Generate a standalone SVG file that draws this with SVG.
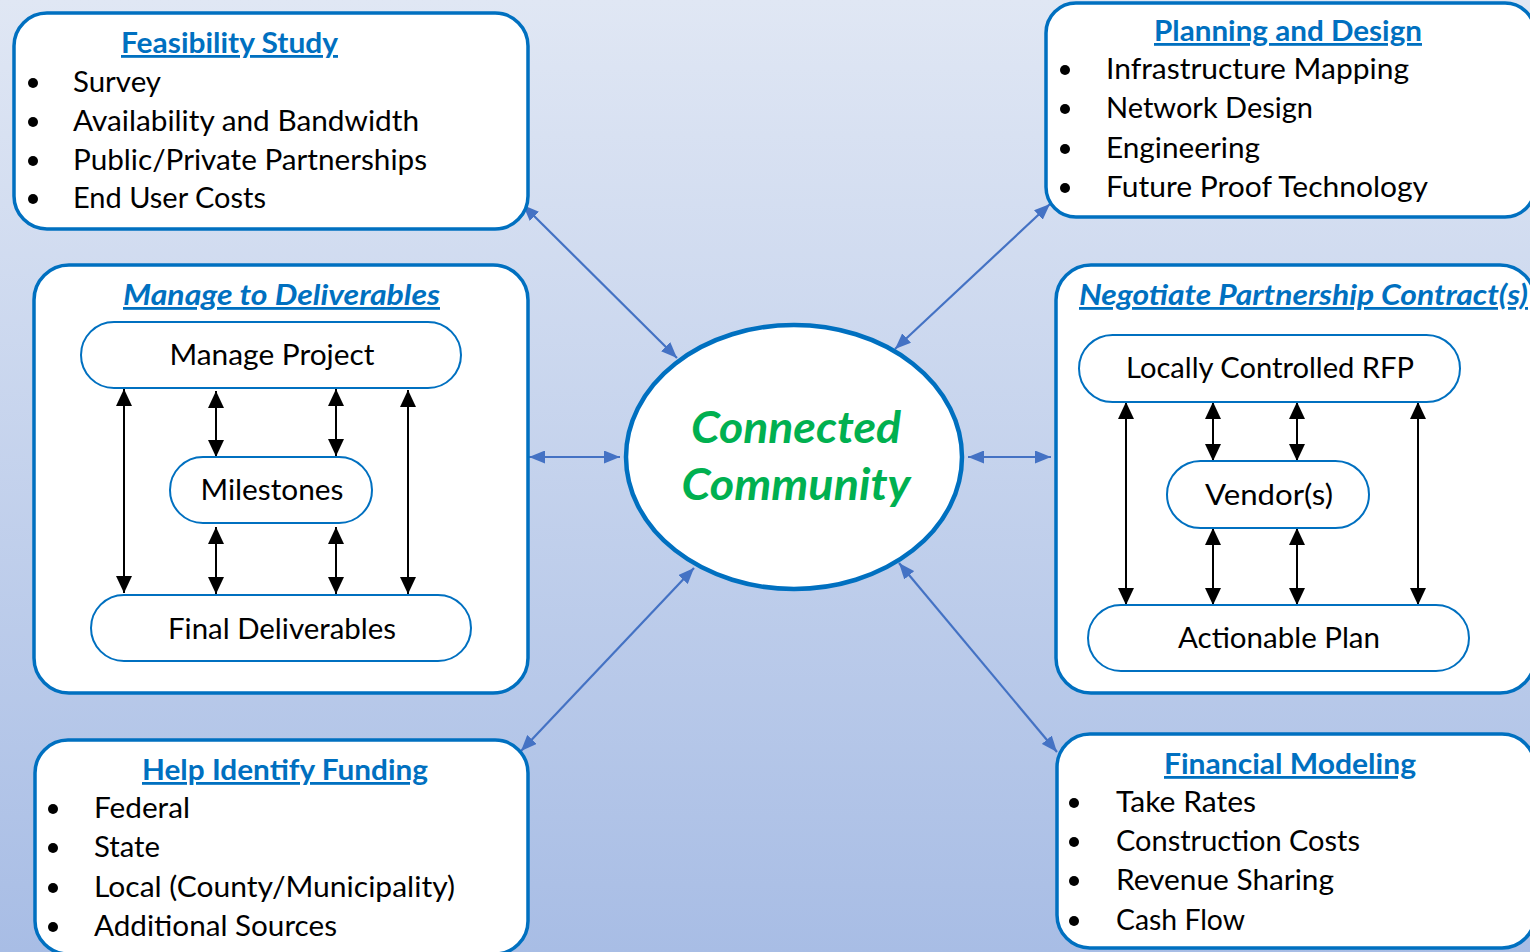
<svg xmlns="http://www.w3.org/2000/svg" width="1530" height="952" viewBox="0 0 1530 952">
<defs>
<linearGradient id="bg" x1="0" y1="0" x2="0" y2="1">
<stop offset="0" stop-color="#E0E7F4"/>
<stop offset="1" stop-color="#A8BDE5"/>
</linearGradient>
<marker id="ab" markerUnits="userSpaceOnUse" markerWidth="16" markerHeight="13" viewBox="0 0 16 13" refX="16" refY="6.5" orient="auto-start-reverse">
<path d="M0,0 L16,6.5 L0,13 z" fill="#4472C4"/>
</marker>
<marker id="ak" markerUnits="userSpaceOnUse" markerWidth="17" markerHeight="16" viewBox="0 0 17 16" refX="17" refY="8" orient="auto-start-reverse">
<path d="M0,0 L17,8 L0,16 z" fill="#000"/>
</marker>
</defs>
<style>
.box{fill:#fff;stroke:#0070C0;stroke-width:3.5}
.pill{fill:#fff;stroke:#0070C0;stroke-width:2}
.title{font-family:Lato,"Liberation Sans",sans-serif;font-weight:bold;fill:#0070C0;font-size:28px;text-decoration:underline}
.ital{font-style:italic}
.item{font-family:Lato,"Liberation Sans",sans-serif;font-size:29px;fill:#000}
.pt{font-family:Lato,"Liberation Sans",sans-serif;font-size:28px;fill:#000;text-anchor:middle}
.cc{font-family:Lato,"Liberation Sans",sans-serif;font-size:44px;font-weight:bold;font-style:italic;fill:#00B050;text-anchor:middle}
.bl{fill:#000}
.conn{stroke:#4472C4;stroke-width:2.2;fill:none;marker-start:url(#ab);marker-end:url(#ab)}
.blk{stroke:#000;stroke-width:2;fill:none;marker-start:url(#ak);marker-end:url(#ak)}
</style>
<rect width="1530" height="952" fill="url(#bg)"/>

<g id="connectors">
<line class="conn" x1="523" y1="205" x2="677" y2="358"/>
<line class="conn" x1="1050" y1="204" x2="895" y2="349"/>
<line class="conn" x1="529" y1="457" x2="620" y2="457"/>
<line class="conn" x1="968" y1="457" x2="1051" y2="457"/>
<line class="conn" x1="521" y1="751" x2="694" y2="568"/>
<line class="conn" x1="1057" y1="752" x2="899" y2="563"/>
</g>

<g id="feasibility">
<rect class="box" x="14" y="13" width="514" height="216" rx="33"/>
<text class="title" x="121" y="53" textLength="217" lengthAdjust="spacingAndGlyphs">Feasibility Study</text>
<circle class="bl" cx="33" cy="83" r="5"/>
<circle class="bl" cx="33" cy="122" r="5"/>
<circle class="bl" cx="33" cy="161" r="5"/>
<circle class="bl" cx="33" cy="199" r="5"/>
<text class="item" x="73" y="92" textLength="88" lengthAdjust="spacingAndGlyphs">Survey</text>
<text class="item" x="73" y="131" textLength="346" lengthAdjust="spacingAndGlyphs">Availability and Bandwidth</text>
<text class="item" x="73" y="170" textLength="354" lengthAdjust="spacingAndGlyphs">Public/Private Partnerships</text>
<text class="item" x="73" y="208" textLength="193" lengthAdjust="spacingAndGlyphs">End User Costs</text>
</g>

<g id="planning">
<rect class="box" x="1046" y="3" width="489" height="214" rx="30"/>
<text class="title" x="1154" y="41" textLength="268" lengthAdjust="spacingAndGlyphs">Planning and Design</text>
<circle class="bl" cx="1065" cy="70" r="5"/>
<circle class="bl" cx="1065" cy="109" r="5"/>
<circle class="bl" cx="1065" cy="149" r="5"/>
<circle class="bl" cx="1065" cy="188" r="5"/>
<text class="item" x="1106" y="79" textLength="303" lengthAdjust="spacingAndGlyphs">Infrastructure Mapping</text>
<text class="item" x="1106" y="118" textLength="207" lengthAdjust="spacingAndGlyphs">Network Design</text>
<text class="item" x="1106" y="158" textLength="154" lengthAdjust="spacingAndGlyphs">Engineering</text>
<text class="item" x="1106" y="197" textLength="322" lengthAdjust="spacingAndGlyphs">Future Proof Technology</text>
</g>

<g id="manage">
<rect class="box" x="34" y="265" width="494" height="428" rx="35"/>
<text class="title ital" x="123" y="305" textLength="317" lengthAdjust="spacingAndGlyphs">Manage to Deliverables</text>
<line class="blk" x1="124" y1="389" x2="124" y2="593"/>
<line class="blk" x1="216" y1="391" x2="216" y2="457"/>
<line class="blk" x1="336" y1="389" x2="336" y2="456"/>
<line class="blk" x1="408" y1="390" x2="408" y2="594"/>
<line class="blk" x1="216" y1="527" x2="216" y2="594"/>
<line class="blk" x1="336" y1="527" x2="336" y2="594"/>
<g id="manage-project">
<rect class="pill" x="81" y="322" width="380" height="66" rx="33"/>
<text class="pt" x="272" y="365" textLength="205" lengthAdjust="spacingAndGlyphs">Manage Project</text>
</g>
<g id="milestones">
<rect class="pill" x="170" y="457" width="202" height="66" rx="33"/>
<text class="pt" x="272" y="500" textLength="143" lengthAdjust="spacingAndGlyphs">Milestones</text>
</g>
<g id="final-deliverables">
<rect class="pill" x="91" y="595" width="380" height="66" rx="33"/>
<text class="pt" x="282" y="639" textLength="228" lengthAdjust="spacingAndGlyphs">Final Deliverables</text>
</g>
</g>

<g id="negotiate">
<rect class="box" x="1056" y="265" width="479" height="428" rx="35"/>
<text class="title ital" x="1079" y="305" textLength="449" lengthAdjust="spacingAndGlyphs">Negotiate Partnership Contract(s)</text>
<line class="blk" x1="1126" y1="402" x2="1126" y2="605"/>
<line class="blk" x1="1213" y1="402" x2="1213" y2="461"/>
<line class="blk" x1="1297" y1="402" x2="1297" y2="461"/>
<line class="blk" x1="1418" y1="402" x2="1418" y2="605"/>
<line class="blk" x1="1213" y1="528" x2="1213" y2="605"/>
<line class="blk" x1="1297" y1="528" x2="1297" y2="605"/>
<g id="rfp">
<rect class="pill" x="1079" y="335" width="381" height="67" rx="33.5"/>
<text class="pt" x="1270" y="378" textLength="288" lengthAdjust="spacingAndGlyphs">Locally Controlled RFP</text>
</g>
<g id="vendors">
<rect class="pill" x="1167" y="461" width="202" height="67" rx="33.5"/>
<text class="pt" x="1269" y="505" textLength="128" lengthAdjust="spacingAndGlyphs">Vendor(s)</text>
</g>
<g id="actionable-plan">
<rect class="pill" x="1088" y="605" width="381" height="66" rx="33"/>
<text class="pt" x="1279" y="648" textLength="202" lengthAdjust="spacingAndGlyphs">Actionable Plan</text>
</g>
</g>

<g id="funding">
<rect class="box" x="35" y="740" width="493" height="214" rx="33"/>
<text class="title" x="142" y="780" textLength="286" lengthAdjust="spacingAndGlyphs">Help Identify Funding</text>
<circle class="bl" cx="53" cy="809" r="5"/>
<circle class="bl" cx="53" cy="848" r="5"/>
<circle class="bl" cx="53" cy="888" r="5"/>
<circle class="bl" cx="53" cy="927" r="5"/>
<text class="item" x="94" y="818" textLength="96" lengthAdjust="spacingAndGlyphs">Federal</text>
<text class="item" x="94" y="857" textLength="66" lengthAdjust="spacingAndGlyphs">State</text>
<text class="item" x="94" y="897" textLength="361" lengthAdjust="spacingAndGlyphs">Local (County/Municipality)</text>
<text class="item" x="94" y="936" textLength="243" lengthAdjust="spacingAndGlyphs">Additional Sources</text>
</g>

<g id="financial">
<rect class="box" x="1057" y="734" width="478" height="214" rx="33"/>
<text class="title" x="1164" y="774" textLength="252" lengthAdjust="spacingAndGlyphs">Financial Modeling</text>
<circle class="bl" cx="1074" cy="803" r="5"/>
<circle class="bl" cx="1074" cy="842" r="5"/>
<circle class="bl" cx="1074" cy="881" r="5"/>
<circle class="bl" cx="1074" cy="921" r="5"/>
<text class="item" x="1116" y="812" textLength="140" lengthAdjust="spacingAndGlyphs">Take Rates</text>
<text class="item" x="1116" y="851" textLength="244" lengthAdjust="spacingAndGlyphs">Construction Costs</text>
<text class="item" x="1116" y="890" textLength="218" lengthAdjust="spacingAndGlyphs">Revenue Sharing</text>
<text class="item" x="1116" y="930" textLength="129" lengthAdjust="spacingAndGlyphs">Cash Flow</text>
</g>

<g id="connected-community">
<ellipse cx="794" cy="457" rx="168" ry="132" fill="#fff" stroke="#0070C0" stroke-width="4.5"/>
<text class="cc" x="796" y="443" textLength="210" lengthAdjust="spacingAndGlyphs">Connected</text>
<text class="cc" x="796" y="500" textLength="229" lengthAdjust="spacingAndGlyphs">Community</text>
</g>
</svg>
